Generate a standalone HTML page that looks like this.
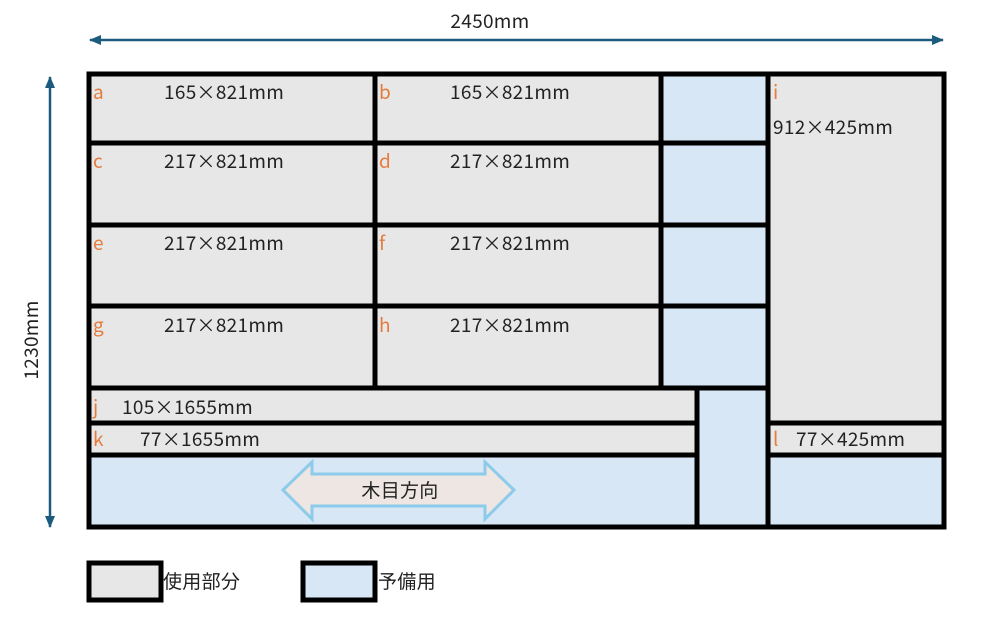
<!DOCTYPE html>
<html><head><meta charset="utf-8"><style>
html,body{margin:0;padding:0;background:#fff;}
svg{display:block;}
text{font-family:"Noto Sans CJK JP","Liberation Sans",sans-serif;letter-spacing:0.3px;}
</style></head><body>
<svg width="982" height="620" viewBox="0 0 982 620" xmlns="http://www.w3.org/2000/svg">
<defs>
<marker id="ah" markerWidth="12" markerHeight="10" refX="11" refY="5" orient="auto-start-reverse" markerUnits="userSpaceOnUse">
<path d="M0,0 L12,5 L0,10 Z" fill="#1d5b7e"/></marker>
</defs>
<line x1="90" y1="40" x2="943" y2="40" stroke="#1d5b7e" stroke-width="2.5" marker-start="url(#ah)" marker-end="url(#ah)"/>
<text x="490" y="28" font-size="19" text-anchor="middle" fill="#222">2450mm</text>
<line x1="50" y1="77" x2="50" y2="527" stroke="#1d5b7e" stroke-width="2.5" marker-start="url(#ah)" marker-end="url(#ah)"/>
<text x="0" y="0" font-size="19" text-anchor="middle" fill="#222" transform="translate(38,340) rotate(-90)">1230mm</text>

<rect x="89" y="74" width="572" height="314" fill="#e7e7e7"/>
<rect x="768" y="74" width="176" height="381" fill="#e7e7e7"/>
<rect x="89" y="388" width="608" height="67" fill="#e7e7e7"/>
<rect x="661" y="74" width="107" height="314" fill="#d8e7f6"/>
<rect x="697" y="388" width="71" height="139" fill="#d8e7f6"/>
<rect x="89" y="455" width="608" height="72" fill="#d8e7f6"/>
<rect x="768" y="455" width="176" height="72" fill="#d8e7f6"/>

<path d="M283,490 L312,462 L312,474 L485,474 L485,462 L514,490 L485,519 L485,506 L312,506 L312,519 Z" fill="#ede6e2" stroke="#8dcbea" stroke-width="3"/>
<text x="400" y="497" font-size="19" text-anchor="middle" fill="#222">木目方向</text>

<g stroke="#000" stroke-width="5" fill="none">
<rect x="89" y="74" width="855" height="453"/>
<line x1="375" y1="74" x2="375" y2="388"/>
<line x1="661" y1="74" x2="661" y2="388"/>
<line x1="768" y1="74" x2="768" y2="527"/>
<line x1="697" y1="388" x2="697" y2="527"/>
<line x1="89" y1="143" x2="768" y2="143"/>
<line x1="89" y1="225" x2="768" y2="225"/>
<line x1="89" y1="306" x2="768" y2="306"/>
<line x1="89" y1="388" x2="768" y2="388"/>
<line x1="89" y1="423" x2="697" y2="423"/>
<line x1="768" y1="423" x2="944" y2="423"/>
<line x1="89" y1="455" x2="697" y2="455"/>
<line x1="768" y1="455" x2="944" y2="455"/>
</g>

<g font-size="19" fill="#e57c3e">
<text x="93" y="99">a</text><text x="379" y="99">b</text>
<text x="93" y="168">c</text><text x="379" y="168">d</text>
<text x="93" y="250">e</text><text x="379" y="250">f</text>
<text x="93" y="332">g</text><text x="379" y="332">h</text>
<text x="773" y="99">i</text>
<text x="93" y="414">j</text>
<text x="93" y="446">k</text>
<text x="773" y="446">l</text>
</g>
<g font-size="19" fill="#222">
<text x="164" y="99">165×821mm</text><text x="450" y="99">165×821mm</text>
<text x="164" y="168">217×821mm</text><text x="450" y="168">217×821mm</text>
<text x="164" y="250">217×821mm</text><text x="450" y="250">217×821mm</text>
<text x="164" y="332">217×821mm</text><text x="450" y="332">217×821mm</text>
<text x="773" y="134">912×425mm</text>
<text x="122" y="414">105×1655mm</text>
<text x="140" y="446">77×1655mm</text>
<text x="796" y="446">77×425mm</text>
</g>

<rect x="89" y="563" width="72" height="37" fill="#e7e7e7" stroke="#000" stroke-width="5"/>
<text x="163" y="588" font-size="19" fill="#222">使用部分</text>
<rect x="303" y="563" width="72" height="37" fill="#d8e7f6" stroke="#000" stroke-width="5"/>
<text x="378" y="588" font-size="19" fill="#222">予備用</text>
</svg>
</body></html>
